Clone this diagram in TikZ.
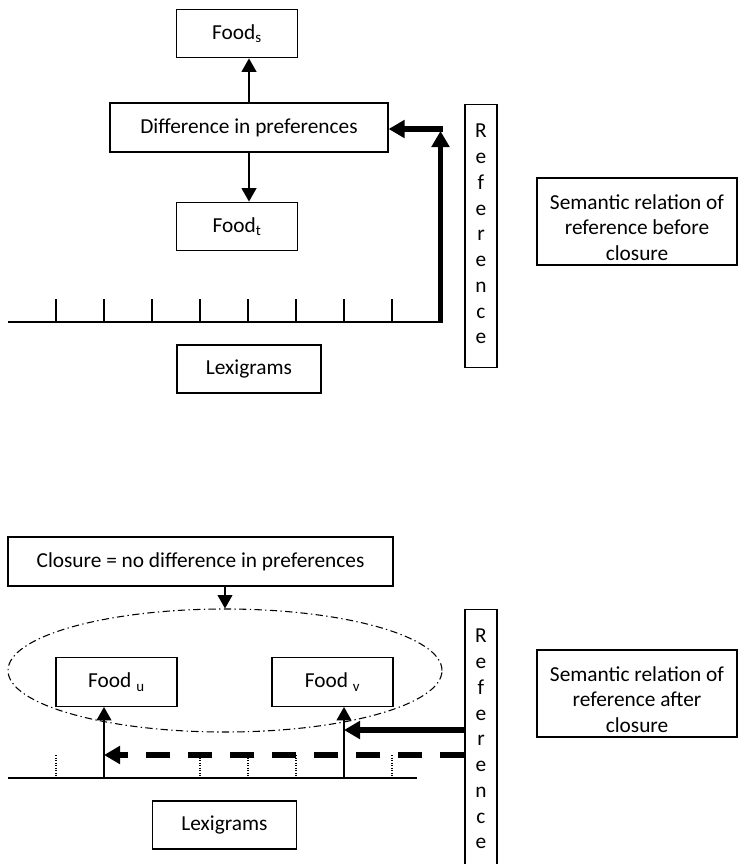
\documentclass[tikz,border=0pt]{standalone}
\usepackage{fontspec}
\setmainfont{Carlito}
\usetikzlibrary{arrows.meta,positioning,shapes.geometric}
\begin{document}
\begin{tikzpicture}[x=0.75pt, y=-0.75pt,
  every node/.style = {font=\fontsize{16}{19.3}\selectfont, inner sep=0pt},
  box/.style = {shape=rectangle, draw, line width=0.9pt, align=center},
  foodbox/.style = {box, minimum width=90.75pt, minimum height=36.5pt},
  refbox/.style = {box, minimum width=24pt, anchor=north},
  semantic/.style = {box, minimum width=150pt, minimum height=65.25pt},
  lexbox/.style = {box, minimum width=108pt, minimum height=36pt},
  arr/.style = {line width=1.2pt, -{Triangle[width=11pt,length=10pt]}},
  fatarr/.style = {line width=3.8pt, -{Triangle[width=13pt,length=12pt]}},
  tick/.style = {line width=0.9pt},
  dottick/.style = {line width=0.9pt, densely dotted}]

  \useasboundingbox (0,0) rectangle (745,864);

  % before closure
  \node (foods) [foodbox] at (237,33.5) {Food\textsubscript{s}};
  \node (diff) [box, minimum width=208.5pt, minimum height=36.75pt] at (249,127.5) {Difference in preferences};
  \node (foodt) [foodbox] at (237,226.5) {Food\textsubscript{t}};
  \node (lex1) [lexbox] at (249,369) {Lexigrams};
  \node (ref1) [refbox, minimum height=197.25pt] at (481,104) {};
  \node (ref1txt) [below=15pt of ref1.north, align=center] {R\\e\\f\\e\\r\\e\\n\\c\\e};
  \node (sem1) [semantic] at (637,221.5) {\rule{0pt}{20pt}Semantic relation of\\reference before\\closure};

  \draw[arr] (diff.north) -- (foods.south -| diff.north);
  \draw[arr] (diff.south) -- (foodt.north -| diff.south);

  \coordinate (base1l) at (8,322);
  \coordinate (base1r) at (443,322);
  \coordinate (corner) at (440.5,129);
  \draw[line width=1.3pt] (base1l) -- (base1r);
  \foreach \x in {56,104,...,392}
    \draw[tick] (\x,299) -- (\x,322);
  \draw[fatarr] (base1r -| corner) -- ([yshift=-1.5pt]corner);
  \draw[fatarr] ([xshift=1.9pt]corner) -- (diff.east |- corner);

  % after closure
  \node (closure) [box, minimum width=288.75pt, minimum height=36.75pt] at (200.5,561.5) {Closure = no difference in preferences};
  \node (pool) [draw, ellipse, line width=0.8pt, dash pattern=on 5.5pt off 2.5pt on 1pt off 2.5pt,
    minimum width=325.5pt, minimum height=92.25pt] at (225,670.5) {};
  \node (foodu) [foodbox] at (116.5,682) {Food \textsubscript{u}};
  \node (foodv) [foodbox] at (332.5,682) {Food \textsubscript{v}};
  \node (lex2) [lexbox] at (224.5,825) {Lexigrams};
  \node (ref2) [refbox, minimum height=192.5pt] at (481,609) {};
  \node (ref2txt) [below=15pt of ref2.north, align=center] {R\\e\\f\\e\\r\\e\\n\\c\\e};
  \node (sem2) [semantic] at (637,693.5) {\rule{0pt}{20pt}Semantic relation of\\reference after\\closure};

  \draw[arr] (closure.south -| pool.north) -- (pool.north);

  \coordinate (base2l) at (8,778);
  \coordinate (base2r) at (417,778);
  \coordinate (hit) at (344,730);
  \coordinate (dash) at (104,755);
  \draw[line width=1.3pt] (base2l) -- (base2r);
  \foreach \x in {56,200,248,296,392}
    \draw[dottick] (\x,755) -- (\x,778);
  \draw[arr] (base2l -| dash) -- (foodu.south -| dash);
  \draw[arr] (base2l -| hit) -- (foodv.south -| hit);
  \draw[fatarr] (ref2.west |- hit) -- (hit);
  \draw[fatarr, dash pattern=on 18pt off 13.5pt] (ref2.west |- dash) -- (dash);

\end{tikzpicture}
\end{document}
